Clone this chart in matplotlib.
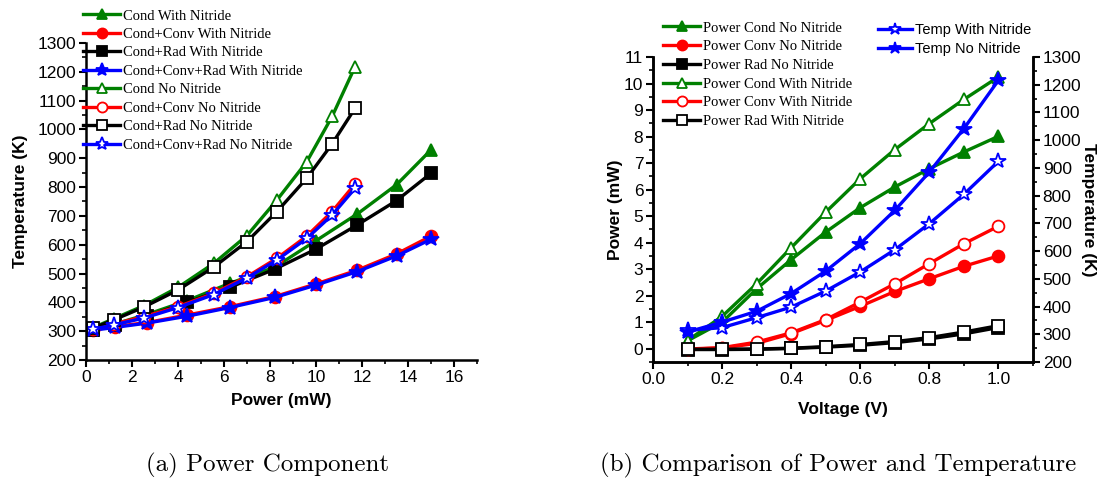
import matplotlib
matplotlib.use("Agg")
import matplotlib.pyplot as plt
from matplotlib.ticker import MultipleLocator

# ---------------- data: panel (a) ----------------
power_no = [0.3, 1.2, 2.5, 4.0, 5.55, 7.0, 8.3, 9.6, 10.7, 11.7]
power_with = [0.3, 1.25, 2.65, 4.4, 6.25, 8.2, 10.0, 11.8, 13.5, 15.0]
cond_with = [305, 325, 358, 406, 466, 522, 614, 707, 808, 929]
condconv_with = [305, 316, 330, 356, 385, 420, 464, 512, 568, 630]
condrad_with = [304, 323, 352, 400, 452, 515, 585, 669, 753, 848]
all_with = [303, 313, 328, 352, 382, 417, 460, 507, 561, 619]
cond_no = [312, 343, 388, 452, 535, 632, 755, 888, 1045, 1218]
condconv_no = [307, 325, 350, 385, 431, 489, 553, 630, 715, 811]
condrad_no = [310, 339, 383, 443, 522, 611, 715, 831, 950, 1074]
all_no = [306, 322, 345, 382, 427, 485, 547, 622, 703, 796]

# ---------------- data: panel (b) ----------------
voltage = [0.1, 0.2, 0.3, 0.4, 0.5, 0.6, 0.7, 0.8, 0.9, 1.0]
p_cond_no = [0.3, 1.0, 2.26, 3.36, 4.4, 5.32, 6.1, 6.79, 7.42, 8.01]
p_conv_no = [-0.02, 0.03, 0.2, 0.57, 1.07, 1.6, 2.16, 2.64, 3.11, 3.5]
p_rad_no = [-0.03, -0.03, -0.02, 0.01, 0.06, 0.13, 0.23, 0.37, 0.56, 0.8]
p_cond_with = [0.31, 1.22, 2.45, 3.81, 5.15, 6.41, 7.51, 8.49, 9.40, 10.25]
p_conv_with = [-0.01, 0.04, 0.25, 0.6, 1.1, 1.76, 2.45, 3.21, 3.96, 4.62]
p_rad_with = [-0.02, -0.02, -0.01, 0.02, 0.08, 0.16, 0.27, 0.42, 0.63, 0.87]
t_with = [314, 324, 360, 398, 456, 525, 605, 699, 805, 924]
t_no = [308, 344, 383, 447, 528, 627, 747, 885, 1042, 1216]

GREEN = "#008000"
RED = "#ff0000"
BLUE = "#0000ff"
BLACK = "#000000"

SANS = ["Liberation Sans", "DejaVu Sans"]
SERIF = ["Liberation Serif", "DejaVu Serif"]

plt.rcParams["font.family"] = SANS

W, H = 1100, 484
fig = plt.figure(figsize=(W / 100, H / 100), dpi=100)


def px_axes(x0, x1, ytop, ybot):
    return fig.add_axes([x0 / W, 1 - ybot / H, (x1 - x0) / W, (ybot - ytop) / H])


LW = 2.4
MS = 8.5


def style_ticks(ax):
    ax.tick_params(axis="both", which="major", direction="out", length=5, width=1.5,
                   labelsize=12.5, pad=2)
    ax.tick_params(axis="both", which="minor", direction="out", length=3, width=1.2)
    for s in ax.spines.values():
        s.set_linewidth(1.8)


# ---------------- panel (a) ----------------
ax1 = px_axes(86, 477, 43, 360)
series_a = [
    (power_with, cond_with, GREEN, "^", True, "Cond With Nitride"),
    (power_with, condconv_with, RED, "o", True, "Cond+Conv With Nitride"),
    (power_with, condrad_with, BLACK, "s", True, "Cond+Rad With Nitride"),
    (power_with, all_with, BLUE, "*", True, "Cond+Conv+Rad With Nitride"),
    (power_no, cond_no, GREEN, "^", False, "Cond No Nitride"),
    (power_no, condconv_no, RED, "o", False, "Cond+Conv No Nitride"),
    (power_no, condrad_no, BLACK, "s", False, "Cond+Rad No Nitride"),
    (power_no, all_no, BLUE, "*", False, "Cond+Conv+Rad No Nitride"),
]
handles_a = []
for xs, ys, c, m, filled, lab in series_a:
    ms = MS + 3 if m == "*" else MS
    h, = ax1.plot(xs, ys, color=c, lw=LW, marker=m, ms=ms,
                  mfc=c if filled else "white", mec=c, mew=1.3, label=lab)
    handles_a.append(h)
ax1.set_xlim(0, 17)
ax1.set_ylim(200, 1300)
ax1.xaxis.set_major_locator(MultipleLocator(2))
ax1.xaxis.set_minor_locator(MultipleLocator(1))
ax1.yaxis.set_major_locator(MultipleLocator(100))
ax1.yaxis.set_minor_locator(MultipleLocator(50))
ax1.spines["top"].set_visible(False)
ax1.spines["right"].set_visible(False)
style_ticks(ax1)
ax1.set_xlabel("Power (mW)", fontsize=12.5, fontweight="bold", labelpad=6)
ax1.set_ylabel("Temperature (K)", fontsize=12.5, fontweight="bold", labelpad=7)
fig.legend(handles=handles_a, loc="upper left", bbox_to_anchor=(76 / W, 1 - 2 / H),
           frameon=False, prop={"family": SERIF, "size": 10.5}, borderpad=0,
           handlelength=2.5, handletextpad=0.2, labelspacing=0.36,
           markerscale=0.85)

# ---------------- panel (b) ----------------
ax2 = px_axes(653, 1033, 57, 362)
series_b = [
    (p_cond_no, GREEN, "^", True, "Power Cond No Nitride"),
    (p_conv_no, RED, "o", True, "Power Conv No Nitride"),
    (p_rad_no, BLACK, "s", True, "Power Rad No Nitride"),
    (p_cond_with, GREEN, "^", False, "Power Cond With Nitride"),
    (p_conv_with, RED, "o", False, "Power Conv With Nitride"),
    (p_rad_with, BLACK, "s", False, "Power Rad With Nitride"),
]
handles_b = []
for ys, c, m, filled, lab in series_b:
    h, = ax2.plot(voltage, ys, color=c, lw=LW, marker=m, ms=MS,
                  mfc=c if filled else "white", mec=c, mew=1.3, label=lab)
    handles_b.append(h)
ax2.set_xlim(0, 1.1)
ax2.set_ylim(-0.5, 11)
ax2.xaxis.set_major_locator(MultipleLocator(0.2))
ax2.xaxis.set_minor_locator(MultipleLocator(0.1))
ax2.yaxis.set_major_locator(MultipleLocator(1))
ax2.yaxis.set_minor_locator(MultipleLocator(0.5))
ax2.xaxis.set_major_formatter(plt.FormatStrFormatter("%.1f"))
ax2.spines["top"].set_visible(False)
style_ticks(ax2)
ax2.set_xlabel("Voltage (V)", fontsize=12.5, fontweight="bold", labelpad=11)
ax2.set_ylabel("Power (mW)", fontsize=12.5, fontweight="bold", labelpad=1)

ax3 = ax2.twinx()
handles_c = []
for ys, filled, lab in [(t_with, False, "Temp With Nitride"), (t_no, True, "Temp No Nitride")]:
    h, = ax3.plot(voltage, ys, color=BLUE, lw=LW, marker="*", ms=MS + 3,
                  mfc=BLUE if filled else "white", mec=BLUE, mew=1.3, label=lab)
    handles_c.append(h)
ax3.set_ylim(200, 1300)
ax3.yaxis.set_major_locator(MultipleLocator(100))
ax3.yaxis.set_minor_locator(MultipleLocator(50))
ax3.spines["top"].set_visible(False)
style_ticks(ax3)
ax3.set_ylabel("Temperature (K)", fontsize=12.5, fontweight="bold", rotation=270,
               labelpad=0, va="bottom")

fig.legend(handles=handles_b, loc="upper left", bbox_to_anchor=(656 / W, 1 - 14 / H),
           frameon=False, prop={"family": SERIF, "size": 10.5}, borderpad=0,
           handlelength=2.5, handletextpad=0.2, labelspacing=0.38,
           markerscale=0.85)
fig.legend(handles=handles_c, loc="upper left", bbox_to_anchor=(871 / W, 1 - 16 / H),
           frameon=False, prop={"family": SANS, "size": 10.5}, borderpad=0,
           handlelength=2.3, handletextpad=0.2, labelspacing=0.3,
           markerscale=0.75)

# ---------------- captions ----------------
fig.text(268 / W, 1 - 465 / H, "(a) Power Component", ha="center", va="center",
         fontsize=18, family=["cmr10", "DejaVu Serif"])
fig.text(838 / W, 1 - 465 / H, "(b) Comparison of Power and Temperature", ha="center",
         va="center", fontsize=18, family=["cmr10", "DejaVu Serif"])

fig.savefig("out.png", dpi=100)
